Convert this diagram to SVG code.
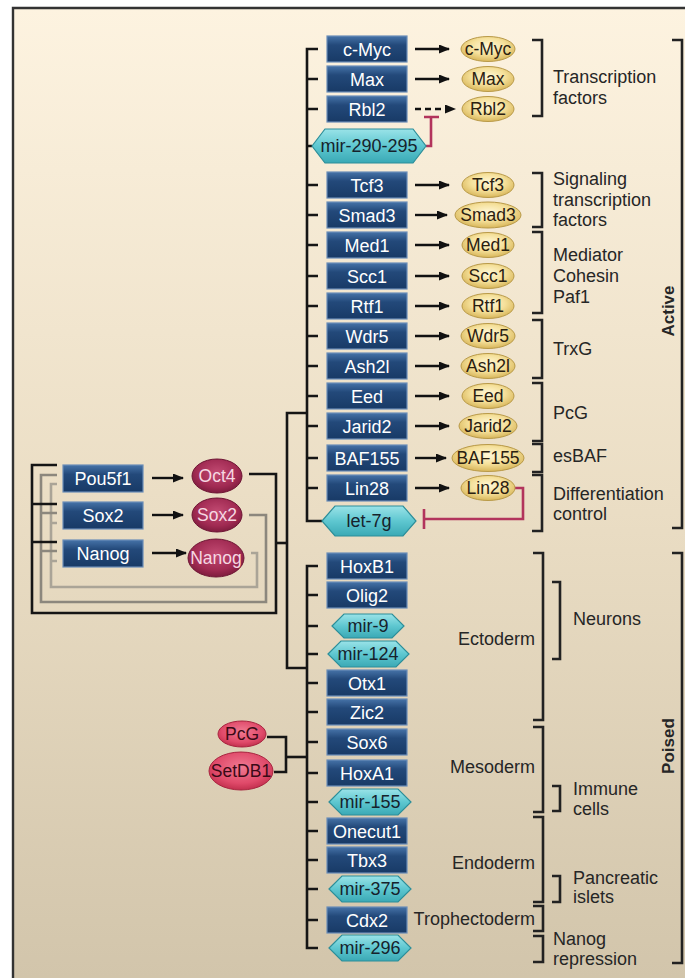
<svg xmlns="http://www.w3.org/2000/svg" width="685" height="978" viewBox="0 0 685 978">
<defs>
  <linearGradient id="bg" x1="0" y1="0" x2="0" y2="1">
    <stop offset="0" stop-color="#fdf3e0"/>
    <stop offset="0.5" stop-color="#ebdec5"/>
    <stop offset="1" stop-color="#d2c5ab"/>
  </linearGradient>
  <linearGradient id="gBlue" x1="0" y1="0" x2="0" y2="1">
    <stop offset="0" stop-color="#4673a8"/>
    <stop offset="0.35" stop-color="#23497a"/>
    <stop offset="1" stop-color="#183a66"/>
  </linearGradient>
  <linearGradient id="gHex" x1="0" y1="0" x2="0" y2="1">
    <stop offset="0" stop-color="#9ae3e8"/>
    <stop offset="0.5" stop-color="#5ec7d0"/>
    <stop offset="1" stop-color="#3aa9b5"/>
  </linearGradient>
  <radialGradient id="gYel" cx="0.5" cy="0.4" r="0.6">
    <stop offset="0" stop-color="#fff8d8"/>
    <stop offset="0.55" stop-color="#f5e09a"/>
    <stop offset="1" stop-color="#d8b65a"/>
  </radialGradient>
  <radialGradient id="gRed" cx="0.5" cy="0.4" r="0.6">
    <stop offset="0" stop-color="#c24a72"/>
    <stop offset="0.7" stop-color="#a02a52"/>
    <stop offset="1" stop-color="#7e1c3e"/>
  </radialGradient>
  <radialGradient id="gPink" cx="0.5" cy="0.4" r="0.6">
    <stop offset="0" stop-color="#f07a92"/>
    <stop offset="0.7" stop-color="#e04a6a"/>
    <stop offset="1" stop-color="#c2304e"/>
  </radialGradient>
  <marker id="arr" markerUnits="userSpaceOnUse" markerWidth="11" markerHeight="9" refX="10" refY="4.5" orient="auto">
    <path d="M0,0 L11,4.5 L0,9 Z" fill="#111"/>
  </marker>
</defs>
<style>
  .gene rect { fill:url(#gBlue); stroke:#6a8db8; stroke-width:1.2; }
  .gene text { font-family:"Liberation Sans",Arial,sans-serif; font-size:18px; fill:#ffffff; text-anchor:middle; }
  .mir path { fill:url(#gHex); stroke:#2c8e99; stroke-width:1.2; }
  .mir text { font-family:"Liberation Sans",Arial,sans-serif; font-size:18px; fill:#16222c; text-anchor:middle; }
  .prot ellipse { fill:url(#gYel); stroke:#b99a48; stroke-width:1; }
  .prot text { font-family:"Liberation Sans",Arial,sans-serif; font-size:17.5px; fill:#2a2010; text-anchor:middle; }
  .core ellipse { fill:url(#gRed); stroke:#6e1634; stroke-width:1; }
  .core text { font-family:"Liberation Sans",Arial,sans-serif; font-size:17.5px; fill:#f6d8e2; text-anchor:middle; }
  .rep ellipse { fill:url(#gPink); stroke:#a8243f; stroke-width:1; }
  .rep text { font-family:"Liberation Sans",Arial,sans-serif; font-size:17.5px; fill:#3a0a16; text-anchor:middle; }
  .lbl { font-family:"Liberation Sans",Arial,sans-serif; font-size:18px; fill:#262626; }
  .big { font-family:"Liberation Sans",Arial,sans-serif; font-size:17px; font-weight:bold; fill:#262626; text-anchor:middle; }
  .ln { fill:none; stroke:#151515; stroke-width:2.6; }
  .g1 { fill:none; stroke:#8c877d; stroke-width:2.6; }
  .g2 { fill:none; stroke:#aaa497; stroke-width:2.6; }
  .arw { fill:none; stroke:#111; stroke-width:2.4; marker-end:url(#arr); }
  .inh { fill:none; stroke:#b2345c; stroke-width:2.6; }
  .br { fill:none; stroke:#222; stroke-width:2.6; }
</style>

<rect x="0" y="0" width="685" height="978" fill="#ffffff"/>
<rect x="13" y="8" width="672" height="970" fill="url(#bg)"/>
<path d="M13,978 V8 H685" fill="none" stroke="#333" stroke-width="2.4"/>

<g id="connectors">
  <!-- top tree -->
  <path class="ln" d="M318,49 H307 V521 H322"/>
  <path class="ln" d="M307,79 H318 M307,109 H318 M307,146 H312 M307,185 H318 M307,215 H318 M307,245 H318 M307,276 H318 M307,306 H318 M307,336 H318 M307,366 H318 M307,396 H318 M307,426 H318 M307,458 H318 M307,488 H318"/>
  <!-- lower tree -->
  <path class="ln" d="M318,566 H307 V948 H318"/>
  <path class="ln" d="M307,595 H318 M307,626 H318 M307,654 H318 M307,683 H318 M307,712 H318 M307,742 H318 M307,773 H318 M307,802 H318 M307,831 H318 M307,860 H318 M307,889 H318 M307,920 H318"/>
  <!-- join -->
  <path class="ln" d="M307,413 H287 V668 H307"/>
  <path class="ln" d="M276,543 H287"/>
  <!-- PcG / SetDB1 -->
  <path class="ln" d="M267,737 H286 V772 H274"/>
  <path class="ln" d="M286,757 H307"/>
  <!-- autoregulatory loops -->
  <path class="g2" d="M251,553 H257 V587 H51 V484 H57 M51,523 H57 M51,561 H57"/>
  <path class="g1" d="M249,515 H266 V602 H41 V475 H57 M41,513 H57 M41,551 H57"/>
  <path class="ln" d="M249,474 H276 V613 H32 V465 H57 M32,504 H57 M32,542 H57"/>
  <!-- left arrows -->
  <path class="arw" d="M152,478 H183"/>
  <path class="arw" d="M152,515 H183"/>
  <path class="arw" d="M152,553 H186"/>
  <!-- gene to protein arrows -->
  <path class="arw" d="M415,49 H449"/>
  <path class="arw" d="M415,79 H449"/>
  <path class="arw" d="M415,109 H455" stroke-dasharray="6,4"/>
  <path class="arw" d="M415,185 H449"/>
  <path class="arw" d="M415,215 H447"/>
  <path class="arw" d="M415,245 H449"/>
  <path class="arw" d="M415,276 H449"/>
  <path class="arw" d="M415,306 H449"/>
  <path class="arw" d="M415,336 H449"/>
  <path class="arw" d="M415,366 H449"/>
  <path class="arw" d="M415,396 H449"/>
  <path class="arw" d="M415,426 H449"/>
  <path class="arw" d="M415,458 H446"/>
  <path class="arw" d="M415,488 H449"/>
  <!-- inhibitions -->
  <path class="inh" d="M426,146 H431 V117 M424,117 H439"/>
  <path class="inh" d="M515,488 H523 V519 H424 M424,509 V529"/>
  <!-- brackets upper -->
  <path class="br" d="M532,40 H542 V116 H532"/>
  <path class="br" d="M532,173 H542 V227 H532"/>
  <path class="br" d="M532,232 H542 V313 H532"/>
  <path class="br" d="M532,320 H542 V378 H532"/>
  <path class="br" d="M532,383 H542 V441 H532"/>
  <path class="br" d="M532,444 H542 V472 H532"/>
  <path class="br" d="M532,475 H542 V531 H532"/>
  <path class="br" d="M672,40 H682 V528 H672"/>
  <!-- brackets lower -->
  <path class="br" d="M533,553 H543 V720 H533"/>
  <path class="br" d="M533,727 H543 V812 H533"/>
  <path class="br" d="M533,817 H543 V902 H533"/>
  <path class="br" d="M533,906 H543 V931 H533"/>
  <path class="br" d="M533,936 H543 V962 H533"/>
  <path class="br" d="M552,582 H560 V659 H552"/>
  <path class="br" d="M552,786 H560 V811 H552"/>
  <path class="br" d="M552,876 H560 V902 H552"/>
  <path class="br" d="M672,553 H682 V963 H672"/>
</g>

<!-- core factors -->
<g id="n-pou5f1" class="gene"><rect x="63" y="465" width="80" height="27"/><text x="103" y="485">Pou5f1</text></g>
<g id="n-sox2g" class="gene"><rect x="63" y="502" width="80" height="27"/><text x="103" y="522">Sox2</text></g>
<g id="n-nanogg" class="gene"><rect x="63" y="540" width="80" height="27"/><text x="103" y="560">Nanog</text></g>
<g id="p-oct4" class="core"><ellipse cx="217" cy="476" rx="25" ry="17"/><text x="217" y="482">Oct4</text></g>
<g id="p-sox2" class="core"><ellipse cx="217" cy="515" rx="25" ry="17"/><text x="217" y="521">Sox2</text></g>
<g id="p-nanog" class="core"><ellipse cx="216" cy="558" rx="28" ry="19"/><text x="216" y="564">Nanog</text></g>

<g id="p-pcg" class="rep"><ellipse cx="242" cy="734" rx="24" ry="13"/><text x="242" y="740">PcG</text></g>
<g id="p-setdb1" class="rep"><ellipse cx="241" cy="771" rx="32" ry="19"/><text x="241" y="777">SetDB1</text></g>

<!-- active genes -->
<g id="n-cmyc" class="gene"><rect x="327" y="36" width="80" height="26"/><text x="367" y="55.5">c-Myc</text></g>
<g id="n-max" class="gene"><rect x="327" y="66" width="80" height="26"/><text x="367" y="85.5">Max</text></g>
<g id="n-rbl2" class="gene"><rect x="327" y="96" width="80" height="26"/><text x="367" y="115.5">Rbl2</text></g>
<g id="n-mir290" class="mir"><path d="M312,146 L325,129 L413,129 L426,146 L413,163 L325,163 Z"/><text x="369" y="152">mir-290-295</text></g>
<g id="n-tcf3" class="gene"><rect x="327" y="172" width="80" height="26"/><text x="367" y="191.5">Tcf3</text></g>
<g id="n-smad3" class="gene"><rect x="327" y="202" width="80" height="26"/><text x="367" y="221.5">Smad3</text></g>
<g id="n-med1" class="gene"><rect x="327" y="232" width="80" height="26"/><text x="367" y="251.5">Med1</text></g>
<g id="n-scc1" class="gene"><rect x="327" y="263" width="80" height="26"/><text x="367" y="282.5">Scc1</text></g>
<g id="n-rtf1" class="gene"><rect x="327" y="293" width="80" height="26"/><text x="367" y="312.5">Rtf1</text></g>
<g id="n-wdr5" class="gene"><rect x="327" y="323" width="80" height="26"/><text x="367" y="342.5">Wdr5</text></g>
<g id="n-ash2l" class="gene"><rect x="327" y="353" width="80" height="26"/><text x="367" y="372.5">Ash2l</text></g>
<g id="n-eed" class="gene"><rect x="327" y="383" width="80" height="26"/><text x="367" y="402.5">Eed</text></g>
<g id="n-jarid2" class="gene"><rect x="327" y="413" width="80" height="26"/><text x="367" y="432.5">Jarid2</text></g>
<g id="n-baf155" class="gene"><rect x="327" y="445" width="80" height="26"/><text x="367" y="464.5">BAF155</text></g>
<g id="n-lin28" class="gene"><rect x="327" y="475" width="80" height="26"/><text x="367" y="494.5">Lin28</text></g>
<g id="n-let7g" class="mir"><path d="M322,521 L335,506 L403,506 L416,521 L403,536 L335,536 Z"/><text x="369" y="527">let-7g</text></g>

<!-- proteins -->
<g id="p-cmyc" class="prot"><ellipse cx="488" cy="49" rx="27" ry="12.5"/><text x="488" y="55">c-Myc</text></g>
<g id="p-max" class="prot"><ellipse cx="488" cy="79" rx="26" ry="12.5"/><text x="488" y="85">Max</text></g>
<g id="p-rbl2" class="prot"><ellipse cx="488" cy="109" rx="26" ry="12.5"/><text x="488" y="115">Rbl2</text></g>
<g id="p-tcf3" class="prot"><ellipse cx="488" cy="185" rx="26" ry="12.5"/><text x="488" y="191">Tcf3</text></g>
<g id="p-smad3" class="prot"><ellipse cx="488" cy="215" rx="33" ry="13"/><text x="488" y="221">Smad3</text></g>
<g id="p-med1" class="prot"><ellipse cx="488" cy="245" rx="26" ry="12.5"/><text x="488" y="251">Med1</text></g>
<g id="p-scc1" class="prot"><ellipse cx="488" cy="276" rx="26" ry="12.5"/><text x="488" y="282">Scc1</text></g>
<g id="p-rtf1" class="prot"><ellipse cx="488" cy="306" rx="26" ry="12.5"/><text x="488" y="312">Rtf1</text></g>
<g id="p-wdr5" class="prot"><ellipse cx="488" cy="336" rx="27" ry="12.5"/><text x="488" y="342">Wdr5</text></g>
<g id="p-ash2l" class="prot"><ellipse cx="488" cy="366" rx="27" ry="12.5"/><text x="488" y="372">Ash2l</text></g>
<g id="p-eed" class="prot"><ellipse cx="488" cy="396" rx="26" ry="12.5"/><text x="488" y="402">Eed</text></g>
<g id="p-jarid2" class="prot"><ellipse cx="488" cy="426" rx="29" ry="12.5"/><text x="488" y="432">Jarid2</text></g>
<g id="p-baf155" class="prot"><ellipse cx="488" cy="458" rx="36" ry="13.5"/><text x="488" y="464">BAF155</text></g>
<g id="p-lin28" class="prot"><ellipse cx="488" cy="488" rx="27" ry="12.5"/><text x="488" y="494">Lin28</text></g>

<!-- poised genes -->
<g id="n-hoxb1" class="gene"><rect x="327" y="553" width="80" height="26"/><text x="367" y="572.5">HoxB1</text></g>
<g id="n-olig2" class="gene"><rect x="327" y="582" width="80" height="26"/><text x="367" y="601.5">Olig2</text></g>
<g id="n-mir9" class="mir"><path d="M332,626 L344,614 L392,614 L404,626 L392,638 L344,638 Z"/><text x="368" y="632">mir-9</text></g>
<g id="n-mir124" class="mir"><path d="M328,654 L341,641 L396,641 L409,654 L396,667 L341,667 Z"/><text x="368" y="660">mir-124</text></g>
<g id="n-otx1" class="gene"><rect x="327" y="670" width="80" height="26"/><text x="367" y="689.5">Otx1</text></g>
<g id="n-zic2" class="gene"><rect x="327" y="699" width="80" height="26"/><text x="367" y="718.5">Zic2</text></g>
<g id="n-sox6" class="gene"><rect x="327" y="729" width="80" height="26"/><text x="367" y="748.5">Sox6</text></g>
<g id="n-hoxa1" class="gene"><rect x="327" y="760" width="80" height="26"/><text x="367" y="779.5">HoxA1</text></g>
<g id="n-mir155" class="mir"><path d="M329,802 L342,789 L398,789 L411,802 L398,815 L342,815 Z"/><text x="370" y="808">mir-155</text></g>
<g id="n-onecut1" class="gene"><rect x="327" y="818" width="80" height="26"/><text x="367" y="837.5">Onecut1</text></g>
<g id="n-tbx3" class="gene"><rect x="327" y="847" width="80" height="26"/><text x="367" y="866.5">Tbx3</text></g>
<g id="n-mir375" class="mir"><path d="M329,889 L342,876 L398,876 L411,889 L398,902 L342,902 Z"/><text x="370" y="895">mir-375</text></g>
<g id="n-cdx2" class="gene"><rect x="327" y="907" width="80" height="26"/><text x="367" y="926.5">Cdx2</text></g>
<g id="n-mir296" class="mir"><path d="M329,948 L342,935 L398,935 L411,948 L398,961 L342,961 Z"/><text x="370" y="954">mir-296</text></g>

<!-- labels -->
<g id="labels">
  <text class="lbl" x="553" y="83">Transcription</text>
  <text class="lbl" x="553" y="104">factors</text>
  <text class="lbl" x="553" y="185">Signaling</text>
  <text class="lbl" x="553" y="206">transcription</text>
  <text class="lbl" x="553" y="226">factors</text>
  <text class="lbl" x="553" y="261">Mediator</text>
  <text class="lbl" x="553" y="282">Cohesin</text>
  <text class="lbl" x="553" y="303">Paf1</text>
  <text class="lbl" x="553" y="355">TrxG</text>
  <text class="lbl" x="553" y="419">PcG</text>
  <text class="lbl" x="553" y="462">esBAF</text>
  <text class="lbl" x="553" y="500">Differentiation</text>
  <text class="lbl" x="553" y="520">control</text>
  <text class="big" transform="translate(674,311) rotate(-90)">Active</text>

  <text class="lbl" x="535" y="645" text-anchor="end">Ectoderm</text>
  <text class="lbl" x="535" y="773" text-anchor="end">Mesoderm</text>
  <text class="lbl" x="535" y="869" text-anchor="end">Endoderm</text>
  <text class="lbl" x="535" y="925" text-anchor="end">Trophectoderm</text>
  <text class="lbl" x="573" y="625">Neurons</text>
  <text class="lbl" x="573" y="795">Immune</text>
  <text class="lbl" x="573" y="815">cells</text>
  <text class="lbl" x="573" y="884">Pancreatic</text>
  <text class="lbl" x="573" y="903">islets</text>
  <text class="lbl" x="553" y="945">Nanog</text>
  <text class="lbl" x="553" y="965">repression</text>
  <text class="big" transform="translate(674,746) rotate(-90)">Poised</text>
</g>
</svg>
